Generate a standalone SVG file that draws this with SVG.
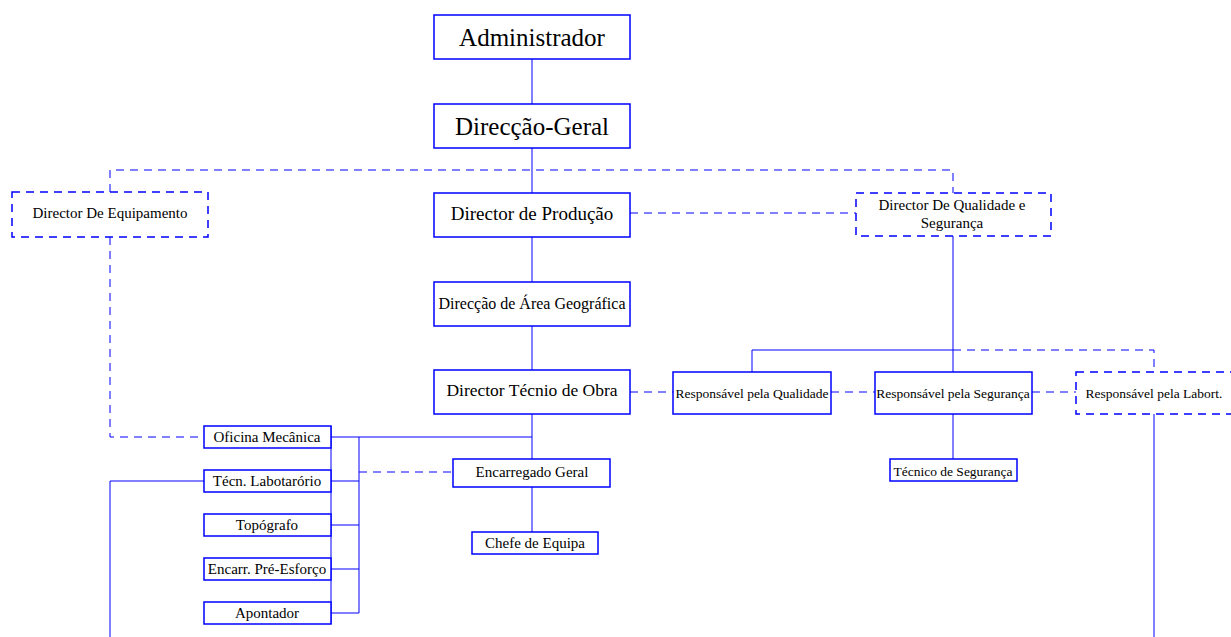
<svg xmlns="http://www.w3.org/2000/svg" width="1231" height="637" viewBox="0 0 1231 637">
<style>
.b{fill:#fff;stroke:#0000ff;stroke-width:1.5}
.bd{fill:#fff;stroke:#0000ff;stroke-width:1.5;stroke-dasharray:8 6}
.c{fill:none;stroke:#0000ff;stroke-width:1}
.cd{fill:none;stroke:#0000ff;stroke-width:1;stroke-dasharray:8 6}
text{font-family:"Liberation Serif","Times New Roman",serif;fill:#000;text-anchor:middle;dominant-baseline:central}
</style>
<rect width="1231" height="637" fill="#fff"/>
<g id="connectors">
<path class="c" d="M532 59V104M532 148V193M532 237V282M532 326V370M532 414V459M532 487V532"/>
<path class="c" d="M331 437H532M331 426V624M359 437V613M331 481H359M331 525H359M331 569H359M331 613H359"/>
<path class="cd" d="M359 472H453"/>
<path class="cd" d="M110 192V170H953V193"/>
<path class="cd" d="M110 237V437H204"/>
<path class="c" d="M204 481H110V637"/>
<path class="cd" d="M630 213H856"/>
<path class="c" d="M953 236V372M752 372V350H953M953 414V459"/>
<path class="cd" d="M953 350H1154V372"/>
<path class="c" d="M1154 414V637"/>
<path class="cd" d="M630 392H673M831 392H875M1032 392H1076"/>
</g>
<g id="administrador"><rect class="b" x="434" y="15" width="196" height="44"/><text x="532" y="37" font-size="25">Administrador</text></g>
<g id="direccao-geral"><rect class="b" x="434" y="104" width="196" height="44"/><text x="532" y="126" font-size="25">Direcção-Geral</text></g>
<g id="director-equipamento"><rect class="bd" x="12" y="192" width="196" height="45"/><text x="110" y="213" font-size="15">Director De Equipamento</text></g>
<g id="director-producao"><rect class="b" x="434" y="193" width="196" height="44"/><text x="532" y="213" font-size="19">Director de Produção</text></g>
<g id="director-qualidade"><rect class="bd" x="856" y="193" width="195" height="43"/><text x="952" y="205" font-size="15">Director De Qualidade e</text><text x="952" y="223" font-size="15">Segurança</text></g>
<g id="direccao-area"><rect class="b" x="434" y="282" width="196" height="44"/><text x="532" y="303" font-size="16">Direcção de Área Geográfica</text></g>
<g id="director-tecnico"><rect class="b" x="434" y="370" width="196" height="44"/><text x="532" y="390" font-size="17.5">Director Técnio de Obra</text></g>
<g id="resp-qualidade"><rect class="b" x="673" y="372" width="158" height="42"/><text x="752" y="393" font-size="13.5">Responsável pela Qualidade</text></g>
<g id="resp-seguranca"><rect class="b" x="875" y="372" width="157" height="42"/><text x="953" y="393" font-size="13.5">Responsável pela Segurança</text></g>
<g id="resp-labort"><rect class="bd" x="1076" y="372" width="156" height="42"/><text x="1154" y="393" font-size="13.5">Responsável pela Labort.</text></g>
<g id="tecnico-seguranca"><rect class="b" x="890" y="459" width="127" height="22"/><text x="953" y="471" font-size="13.5">Técnico de Segurança</text></g>
<g id="oficina"><rect class="b" x="204" y="426" width="127" height="22"/><text x="267" y="437" font-size="15">Oficina Mecânica</text></g>
<g id="tecn-lab"><rect class="b" x="204" y="470" width="127" height="22"/><text x="267" y="481" font-size="15">Técn. Labotarório</text></g>
<g id="topografo"><rect class="b" x="204" y="514" width="127" height="22"/><text x="267" y="525" font-size="15">Topógrafo</text></g>
<g id="encarr"><rect class="b" x="204" y="558" width="127" height="22"/><text x="267" y="569" font-size="15">Encarr. Pré-Esforço</text></g>
<g id="apontador"><rect class="b" x="204" y="602" width="127" height="22"/><text x="267" y="613" font-size="15">Apontador</text></g>
<g id="encarregado-geral"><rect class="b" x="453" y="459" width="157" height="28"/><text x="532" y="472" font-size="15">Encarregado Geral</text></g>
<g id="chefe-equipa"><rect class="b" x="472" y="532" width="126" height="22"/><text x="535" y="543" font-size="15">Chefe de Equipa</text></g>
</svg>
